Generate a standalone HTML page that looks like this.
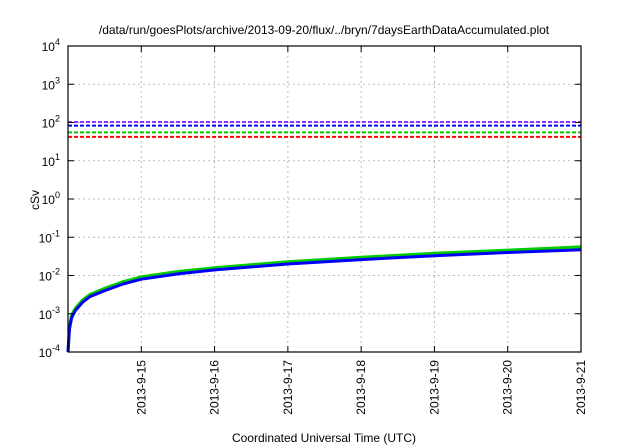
<!DOCTYPE html>
<html><head><meta charset="utf-8"><style>
body{margin:0;background:#fff}
svg{display:block;font-family:"Liberation Sans",sans-serif}
</style></head><body>
<svg id="chart" width="640" height="448">
<text x="324" y="34" font-size="12" text-anchor="middle">/data/run/goesPlots/archive/2013-09-20/flux/../bryn/7daysEarthDataAccumulated.plot</text>
<text x="35" y="204" font-size="12" text-anchor="middle" transform="rotate(-90 35 200)">cSv</text>
<text x="324" y="442" font-size="12" text-anchor="middle">Coordinated Universal Time (UTC)</text>
<g id="grid"></g><g id="marks"></g><g id="axes"></g>
</svg>
<script>
const xTickLabels=["2013-9-15","2013-9-16","2013-9-17","2013-9-18","2013-9-19","2013-9-20","2013-9-21"];
const yTickExps=[-4,-3,-2,-1,0,1,2,3,4];
const thresholdColors=["#9b30ff","#0000ff","#00cc00","#ff0000"];
const thresholdValues=[103,83,55,42];
const days=[0,0.02,0.05,0.1,0.2,0.3,0.5,0.75,1,1.5,2,3,4,5,6,7];
const greenVals=[1e-4,5e-4,9.5e-4,1.4e-3,2.3e-3,3.2e-3,4.6e-3,6.9e-3,9.2e-3,1.27e-2,1.6e-2,2.3e-2,3e-2,3.8e-2,4.6e-2,5.6e-2];
const blueVals=[1e-4,4e-4,8e-4,1.2e-3,2e-3,2.8e-3,4e-3,6e-3,8e-3,1.1e-2,1.4e-2,2e-2,2.6e-2,3.3e-2,4e-2,4.7e-2];
const L=68,R=581,T=46,B=352,NS="http://www.w3.org/2000/svg";
const xs=d=>L+(R-L)*d/7;
const ys=v=>B-(B-T)*(Math.log10(v)+4)/8;
function mk(p,tag,at){const e=document.createElementNS(NS,tag);for(const k in at)e.setAttribute(k,at[k]);p.appendChild(e);return e;}
const grid=document.getElementById('grid'),marks=document.getElementById('marks'),axes=document.getElementById('axes');
yTickExps.forEach(e=>{const y=ys(Math.pow(10,e));
 if(e>-4&&e<4){const g=mk(grid,'line',{x1:L,x2:R,y1:y,y2:y,stroke:'#bbb','stroke-dasharray':'2,3','stroke-width':1});
 }
 mk(axes,'line',{x1:L,x2:L+6,y1:y,y2:y,stroke:'#000'});mk(axes,'line',{x1:R,x2:R-6,y1:y,y2:y,stroke:'#000'});
 const t=mk(axes,'text',{x:L-8,y:y+5,'font-size':12,'text-anchor':'end'});
 
 t.textContent='10';const s=mk(t,'tspan',{dy:-6,'font-size':9});s.textContent=String(e);});
xTickLabels.forEach((lab,i)=>{const x=xs(i+1);
 if(i<6){const g=mk(grid,'line',{x1:x,x2:x,y1:T,y2:B,stroke:'#bbb','stroke-dasharray':'2,3'});
 }
 mk(axes,'line',{x1:x,x2:x,y1:B,y2:B-6,stroke:'#000'});mk(axes,'line',{x1:x,x2:x,y1:T,y2:T+6,stroke:'#000'});
 const t=mk(axes,'text',{x:x+4,y:360,'font-size':12,'text-anchor':'end',transform:`rotate(-90 ${x+4} 360)`});
 t.textContent=lab;});
const fr=mk(axes,'rect',{x:L,y:T,width:R-L,height:B-T,fill:'none',stroke:'#000','stroke-width':1.2});

thresholdValues.forEach((v,i)=>{const l=mk(marks,'line',{x1:L,x2:R,y1:ys(v),y2:ys(v),stroke:thresholdColors[i],'stroke-width':2,'stroke-dasharray':'4,2'});
 });
function series(vals,col,w,name){const d=days.map((t,i)=>(i?'L':'M')+xs(t).toFixed(1)+','+ys(vals[i]).toFixed(1)).join('');
 const p=mk(marks,'path',{d:d,fill:'none',stroke:col,'stroke-width':w});
 }
series(greenVals,'#00cc00',3,'green-series');
series(blueVals,'#0000ff',3,'blue-series');
</script>
</body></html>
